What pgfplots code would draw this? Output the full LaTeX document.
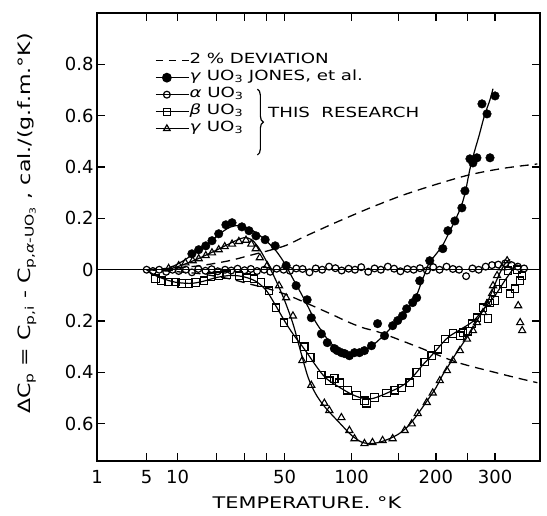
\documentclass[border=0pt]{standalone}
\usepackage{fontspec}
\setmainfont{DejaVu Sans}
\newfontfamily\legfont[FakeStretch=1.3]{DejaVu Sans}
\usepackage{pgfplots}
\pgfplotsset{compat=1.18}
\usetikzlibrary{decorations.pathreplacing}
\begin{document}
\begin{tikzpicture}
\begin{axis}[
  scale only axis, width=443pt, height=448pt,
  xmin=1, xmax=395, ymin=-0.745, ymax=1.0,
  x coord trafo/.code={\pgfmathparse{(#1)^(1/3)}},
  x coord inv trafo/.code={\pgfmathparse{(#1)^3}},
  xtick={1,5,10,20,30,40,50,100,150,200,250,300},
  xticklabels={1,5,10,,,,50,100,,200,,300},
  ytick={-0.6,-0.4,-0.2,0,0.2,0.4,0.6,0.8},
  yticklabels={0.6,0.4,0.2,0,0.2,0.4,0.6,0.8},
  tick align=inside, major tick length=8pt,
  every tick/.style={black, line width=1.3pt},
  axis line style={line width=1.8pt},
  tick label style={font=\fontsize{18}{18}\selectfont},
  xticklabel style={yshift=-6pt},
  xlabel={TEMPERATURE. °K},
  every axis x label/.style={at={(rel axis cs:0.474,-0.094)}, anchor=center, font=\legfont\fontsize{16}{16}\selectfont},
  ylabel={ΔC\textsubscript{p} = C\textsubscript{p,i} - C\textsubscript{p,\textit{α}-UO\textsubscript{3}} , cal./(g.f.m.°K)},
  every axis y label/.style={at={(rel axis cs:-0.158,0.53)}, rotate=90, anchor=center, font=\legfont\fontsize{17}{17}\selectfont},
  legend style={at={(rel axis cs:0.131,0.913)}, anchor=north west, draw=none, fill=none,
    inner sep=0pt, row sep=0pt, font=\legfont\fontsize{14}{14}\selectfont,
    nodes={inner sep=0pt, text height=11pt, text depth=6pt}},
  legend cell align=left,
  legend image code/.code={
    \draw[mark repeat=2,mark phase=2,#1] plot coordinates {(0pt,0pt) (11pt,0pt) (22pt,0pt)};
    \path (0pt,0pt) -- (33pt,0pt);
  },
  jones/.style={only marks, mark=*, mark size=4.3pt, mark options={fill=black, draw=black}},
  alph/.style={only marks, mark=o, mark size=3.4pt, mark options={line width=1.2pt, fill=white}},
  bet/.style={only marks, mark=square, mark size=3.7pt, mark options={line width=1.2pt, fill=white}},
  gam/.style={only marks, mark=triangle, mark size=4.1pt, mark options={line width=1.1pt, fill=white}},
  crv/.style={black, line width=1.2pt, smooth, no marks},
  dev/.style={black, line width=1.3pt, dash pattern=on 9pt off 6pt, smooth, no marks},
]
% legend
\addlegendimage{black, line width=1.3pt, dash pattern=on 7pt off 6pt}
\addlegendentry{2 \% DEVIATION}
\addlegendimage{black, line width=1.2pt, mark=*, mark size=4.3pt, mark options={fill=black}}
\addlegendentry{\textit{γ} UO\textsubscript{3} JONES, et al.}
\addlegendimage{black, line width=1.2pt, mark=o, mark size=3.4pt, mark options={fill=white}}
\addlegendentry{\textit{α} UO\textsubscript{3}}
\addlegendimage{black, line width=1.2pt, mark=square, mark size=3.5pt, mark options={fill=white}}
\addlegendentry{\textit{β} UO\textsubscript{3}}
\addlegendimage{black, line width=1.2pt, mark=triangle, mark size=3.8pt, mark options={fill=white}}
\addlegendentry{\textit{γ} UO\textsubscript{3}}

% 2% deviation band
\addplot[dev, forget plot] coordinates {(5,0) (8,0.005) (14.8,0.015) (24.1,0.035) (32,0.055) (41.5,0.075) (50.9,0.095) (61,0.125) (73,0.155) (86.6,0.185) (117.5,0.24) (155,0.29) (201,0.333) (254,0.37) (316,0.395) (389,0.412)};
\addplot[dev, forget plot] coordinates {(5,0) (8,-0.005) (14.8,-0.015) (24.1,-0.035) (32,-0.055) (41.5,-0.075) (53,-0.102) (81,-0.17) (95,-0.2) (110,-0.225) (129,-0.245) (174,-0.30) (232,-0.36) (300,-0.40) (350,-0.424) (389,-0.44)};

% alpha reference line
\addplot[black, line width=1.3pt, forget plot] coordinates {(1,0) (395,0)};

% curves
\addplot[crv, forget plot] coordinates {(8,0) (9,0.012) (11,0.033) (13,0.056) (15,0.078) (17,0.099) (19,0.12) (21,0.14) (23,0.157) (25,0.168) (27,0.172) (29,0.17) (32,0.16) (35,0.145) (38,0.126) (41,0.105) (45,0.075) (50,0.025) (55,-0.035) (60,-0.09) (65,-0.145) (70,-0.2) (75,-0.24) (80,-0.275) (85,-0.3) (90,-0.318) (95,-0.327) (100,-0.33) (105,-0.328) (110,-0.32) (120,-0.297) (130,-0.265) (140,-0.23) (150,-0.195) (160,-0.158) (170,-0.117) (175,-0.085) (180,-0.045) (185,-0.01) (190,0.025) (200,0.06) (210,0.095) (220,0.145) (230,0.195) (240,0.25) (247,0.31) (254,0.39) (262,0.46) (270,0.52) (280,0.6) (290,0.66) (296,0.705)};
\addplot[crv, forget plot] coordinates {(5,0) (6,-0.02) (8,-0.04) (10,-0.05) (13,-0.053) (16,-0.045) (20,-0.03) (25,-0.022) (30,-0.028) (35,-0.045) (40,-0.08) (45,-0.14) (50,-0.2) (55,-0.25) (60,-0.29) (65,-0.33) (70,-0.37) (75,-0.405) (80,-0.43) (90,-0.46) (100,-0.485) (110,-0.5) (120,-0.502) (130,-0.49) (140,-0.475) (150,-0.46) (160,-0.44) (170,-0.41) (180,-0.375) (190,-0.345) (200,-0.315) (210,-0.285) (220,-0.26) (240,-0.23) (260,-0.2) (280,-0.15) (300,-0.1) (320,-0.04) (335,0) (345,0.02)};
\addplot[crv, forget plot] coordinates {(8,0) (10,0.012) (13,0.032) (16,0.052) (20,0.077) (24,0.1) (27,0.115) (30,0.125) (33,0.118) (36,0.09) (40,0.035) (45,-0.04) (50,-0.12) (55,-0.21) (60,-0.32) (65,-0.42) (70,-0.48) (75,-0.52) (80,-0.55) (90,-0.6) (100,-0.645) (110,-0.672) (120,-0.677) (130,-0.67) (140,-0.657) (150,-0.64) (160,-0.615) (170,-0.58) (180,-0.54) (190,-0.5) (200,-0.46) (210,-0.41) (220,-0.37) (230,-0.33) (240,-0.295) (250,-0.26) (260,-0.225) (270,-0.185) (280,-0.15) (290,-0.105) (300,-0.055) (310,-0.01) (320,0.025) (330,0.04)};

% alpha UO3 points
\addplot[alph, forget plot] coordinates {(5.0,0) (5.83,-0.005) (6.75,0.0) (7.88,-0.008) (9.0,0.0) (10.2,-0.005) (11.7,0.0) (13.1,-0.01) (14.7,0.003) (16.6,-0.004) (18.4,0.002) (20.3,-0.006) (22.7,0.0) (24.9,-0.003) (27.3,0.004) (30.1,-0.002) (32.8,0.003) (35.6,-0.005) (39.0,0.0) (42.1,-0.008) (45.5,0.004) (49.4,0.0) (53.2,-0.004) (57.1,0.005) (61.2,0.003) (65.9,-0.01) (70.4,0.005) (75.2,0.0) (80.6,0.012) (85.8,0.006) (91.1,-0.003) (97.3,0.004) (103.2,0.0) (109.2,0.01) (116.2,-0.008) (122.8,0.005) (129.6,0.0) (137.4,0.012) (144.7,0.004) (152.3,-0.006) (161.0,0.003) (169.1,0.0) (177.5,0.006) (187.1,-0.003) (196.1,0.01) (205.4,0.0) (216,0.012) (225.9,0.003) (236.0,0.0) (247.7,-0.025) (258.5,0.005) (269.6,0.0) (282.3,0.012) (294.1,0.018) (306.2,0.02) (320.0,0.025) (332.8,0.018) (345.9,0.012) (359.4,0.005)};
% beta UO3 points
\addplot[bet, forget plot] coordinates {(6.21,-0.035) (7.12,-0.043) (8.3,-0.047) (9.6,-0.047) (10.8,-0.054) (12.4,-0.054) (14.0,-0.05) (16.2,-0.043) (18.2,-0.027) (20.6,-0.023) (23.3,-0.019) (27.8,-0.023) (31.1,-0.031) (34.2,-0.035) (37.5,-0.05) (41.5,-0.082) (45.2,-0.148) (49.7,-0.206) (57.0,-0.27) (62.3,-0.30) (66.5,-0.342) (74.6,-0.41) (80.8,-0.432) (84.9,-0.424) (89.2,-0.44) (96.2,-0.47) (104.6,-0.49) (112.4,-0.51) (114.4,-0.52) (122.8,-0.498) (136.0,-0.48) (145.3,-0.47) (153.8,-0.46) (163.9,-0.44) (173.1,-0.40) (184.0,-0.36) (194.0,-0.335) (202.8,-0.31) (213.4,-0.27) (226.0,-0.248) (237.3,-0.257) (242.3,-0.245) (250.8,-0.24) (257.7,-0.21) (266.5,-0.187) (277.4,-0.148) (286.7,-0.19) (290.4,-0.13) (300,-0.12) (305.8,-0.075) (315.7,-0.054) (325.8,-0.004) (329.9,-0.093) (340.4,-0.074) (350.9,-0.043) (355.2,-0.023) (344.5,0.0)};
% gamma UO3 (this research) points
\addplot[gam, forget plot] coordinates {(8.3,0.005) (10.2,0.016) (11.6,0.027) (13.3,0.035) (14.8,0.043) (16.7,0.055) (18.5,0.066) (20.6,0.078) (22.6,0.09) (25.2,0.1) (27.8,0.11) (30.7,0.115) (33.0,0.1) (35.0,0.082) (36.9,0.047) (40.5,0.016) (46.8,-0.062) (50.9,-0.109) (55,-0.18) (61.0,-0.354) (67.2,-0.45) (76.9,-0.52) (80.8,-0.548) (90.9,-0.576) (98.0,-0.626) (102.7,-0.658) (112.4,-0.677) (120.6,-0.673) (131.5,-0.665) (143.0,-0.658) (157.6,-0.626) (166.6,-0.6) (174.5,-0.56) (186.9,-0.517) (195.4,-0.48) (205.8,-0.432) (216.6,-0.393) (226.0,-0.354) (237.3,-0.315) (249.1,-0.27) (259.4,-0.237) (266.5,-0.206) (277.4,-0.167) (284.8,-0.132) (294.2,-0.093) (296.1,-0.062) (303.9,-0.023) (313.7,0.008) (323.8,0.035) (346.7,-0.14) (350.9,-0.206) (355.2,-0.237)};
% gamma UO3 Jones et al. points
\addplot[jones, forget plot] coordinates {(13.1,0.062) (14.8,0.078) (16.7,0.093) (18.5,0.113) (20.6,0.14) (23.0,0.175) (25.2,0.183) (29.0,0.167) (32.0,0.152) (35.1,0.132) (39.5,0.117) (44.7,0.093) (50.9,0.016) (57.0,-0.062) (64.3,-0.117) (67.2,-0.187) (74.6,-0.25) (79.2,-0.284) (84.9,-0.307) (87.3,-0.315) (90.9,-0.323) (93.9,-0.327) (98.0,-0.335) (102.7,-0.323) (107.5,-0.323) (112.4,-0.315) (119.6,-0.296) (126.0,-0.21) (133.7,-0.257) (143.0,-0.218) (149.0,-0.198) (155.0,-0.179) (160.1,-0.152) (167.8,-0.128) (173.1,-0.109) (177.2,-0.043) (191.1,0.035) (210.3,0.082) (218.1,0.152) (229.1,0.19) (240.6,0.241) (245.7,0.307) (254.2,0.432) (259.4,0.416) (266.5,0.436) (290.4,0.436) (275.5,0.646) (284.8,0.607) (300.0,0.677)};

% brace and label
\draw[line width=1.2pt, decorate, decoration={brace, amplitude=6pt}] (rel axis cs:0.362,0.83) -- (rel axis cs:0.362,0.683);
\node[anchor=west, font=\legfont\fontsize{14}{14}\selectfont, inner sep=0pt] at (rel axis cs:0.386,0.779) {THIS\ \ RESEARCH};
\end{axis}
\pgfresetboundingbox
\path[use as bounding box] (current axis.south west) ++(-97pt,-54pt) rectangle ++(547pt,515pt);
\end{tikzpicture}
\end{document}
